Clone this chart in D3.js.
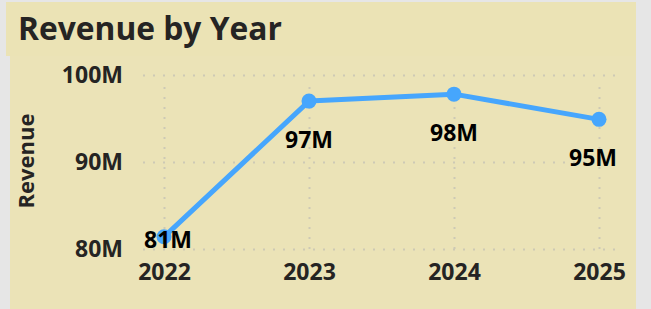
<!doctype html>
<html>
<head>
<style>
  body { margin: 0; background: #e6e6e6; font-family: "Open Sans", "DejaVu Sans", sans-serif; }
  svg { display: block; }
</style>
<script src="https://d3js.org/d3.v7.min.js"></script>
</head>
<body>
<svg width="651" height="309"></svg>
<script>
// data (revenue in millions)
var years = ["2022", "2023", "2024", "2025"];
var revenue = [81.4, 97.0, 97.8, 94.9];
var yTicks = [80, 90, 100];

var svg = d3.select("svg");

// panel background
svg.append("rect").attr("x", 6).attr("y", 2).attr("width", 630).attr("height", 54).attr("fill", "#ebe3b5");
svg.append("rect").attr("x", 10).attr("y", 56).attr("width", 626).attr("height", 253).attr("fill", "#ebe3b7");

var x = d3.scalePoint().domain(years).range([164, 599]),
    y = d3.scaleLinear().domain([80, 100]).range([249, 75]);

// title
var title = svg.append("text")
    .attr("x", 18).attr("y", 40)
    .attr("font-size", "32px").attr("font-weight", "bold")
    .attr("fill", "#252423")
    .text("Revenue by Year");
var tw = title.node().getComputedTextLength();
title.attr("font-size", (32 * 264 / tw) + "px");

// y axis + horizontal grid
var gy = svg.append("g")
    .attr("transform", "translate(143,0)")
    .call(d3.axisLeft(y).tickValues(yTicks).tickSize(-472).tickPadding(20)
        .tickFormat(function(d) { return d + "M"; }));
gy.select(".domain").remove();
gy.selectAll("line").attr("stroke", "#cdc9b5").attr("stroke-width", 2).attr("stroke-dasharray", "2,8");
gy.selectAll("text").attr("font-size", "23px").attr("font-weight", "bold")
    .attr("fill", "#252423").attr("font-family", "Open Sans");

// x axis + vertical grid
var gx = svg.append("g")
    .attr("transform", "translate(0,249)")
    .call(d3.axisBottom(x).tickSize(-170).tickPadding(15));
gx.select(".domain").remove();
gx.selectAll("line").attr("stroke", "#cdc9b5").attr("stroke-width", 2).attr("stroke-dasharray", "2,8");
gx.selectAll("text").attr("font-size", "23px").attr("font-weight", "bold")
    .attr("fill", "#252423").attr("font-family", "Open Sans");

// y axis title
svg.append("text")
    .attr("transform", "translate(34,161) rotate(-90)")
    .attr("text-anchor", "middle")
    .attr("font-size", "22px").attr("font-weight", "bold")
    .attr("fill", "#252423")
    .text("Revenue");

var data = years.map(function(d, i) { return { year: d, value: revenue[i] }; });

// line
svg.append("path")
    .datum(data)
    .attr("fill", "none")
    .attr("stroke", "#46a6fd")
    .attr("stroke-width", 5)
    .attr("stroke-linejoin", "round")
    .attr("d", d3.line().x(function(d) { return x(d.year); }).y(function(d) { return y(d.value); }));

// markers
svg.selectAll(".dot")
    .data(data)
    .enter()
    .append("circle")
    .attr("cx", function(d) { return x(d.year); })
    .attr("cy", function(d) { return y(d.value); })
    .attr("r", 7.5)
    .attr("fill", "#46a6fd");

// data labels, kept inside the plot area
var labels = svg.selectAll(".lbl")
    .data(data)
    .enter()
    .append("text")
    .attr("text-anchor", "middle")
    .attr("font-size", "23px").attr("font-weight", "bold")
    .attr("fill", "#000")
    .attr("y", function(d) { return Math.min(y(d.value) + 47, 248); })
    .attr("x", function(d) { return x(d.year); })
    .text(function(d) { return Math.round(d.value) + "M"; });

labels.each(function(d) {
    var w = this.getComputedTextLength(), cx = x(d.year);
    if (cx - w / 2 < 144) cx = 144 + w / 2;
    if (cx + w / 2 > 617) cx = 617 - w / 2;
    d3.select(this).attr("x", cx);
});
</script>
</body>
</html>
